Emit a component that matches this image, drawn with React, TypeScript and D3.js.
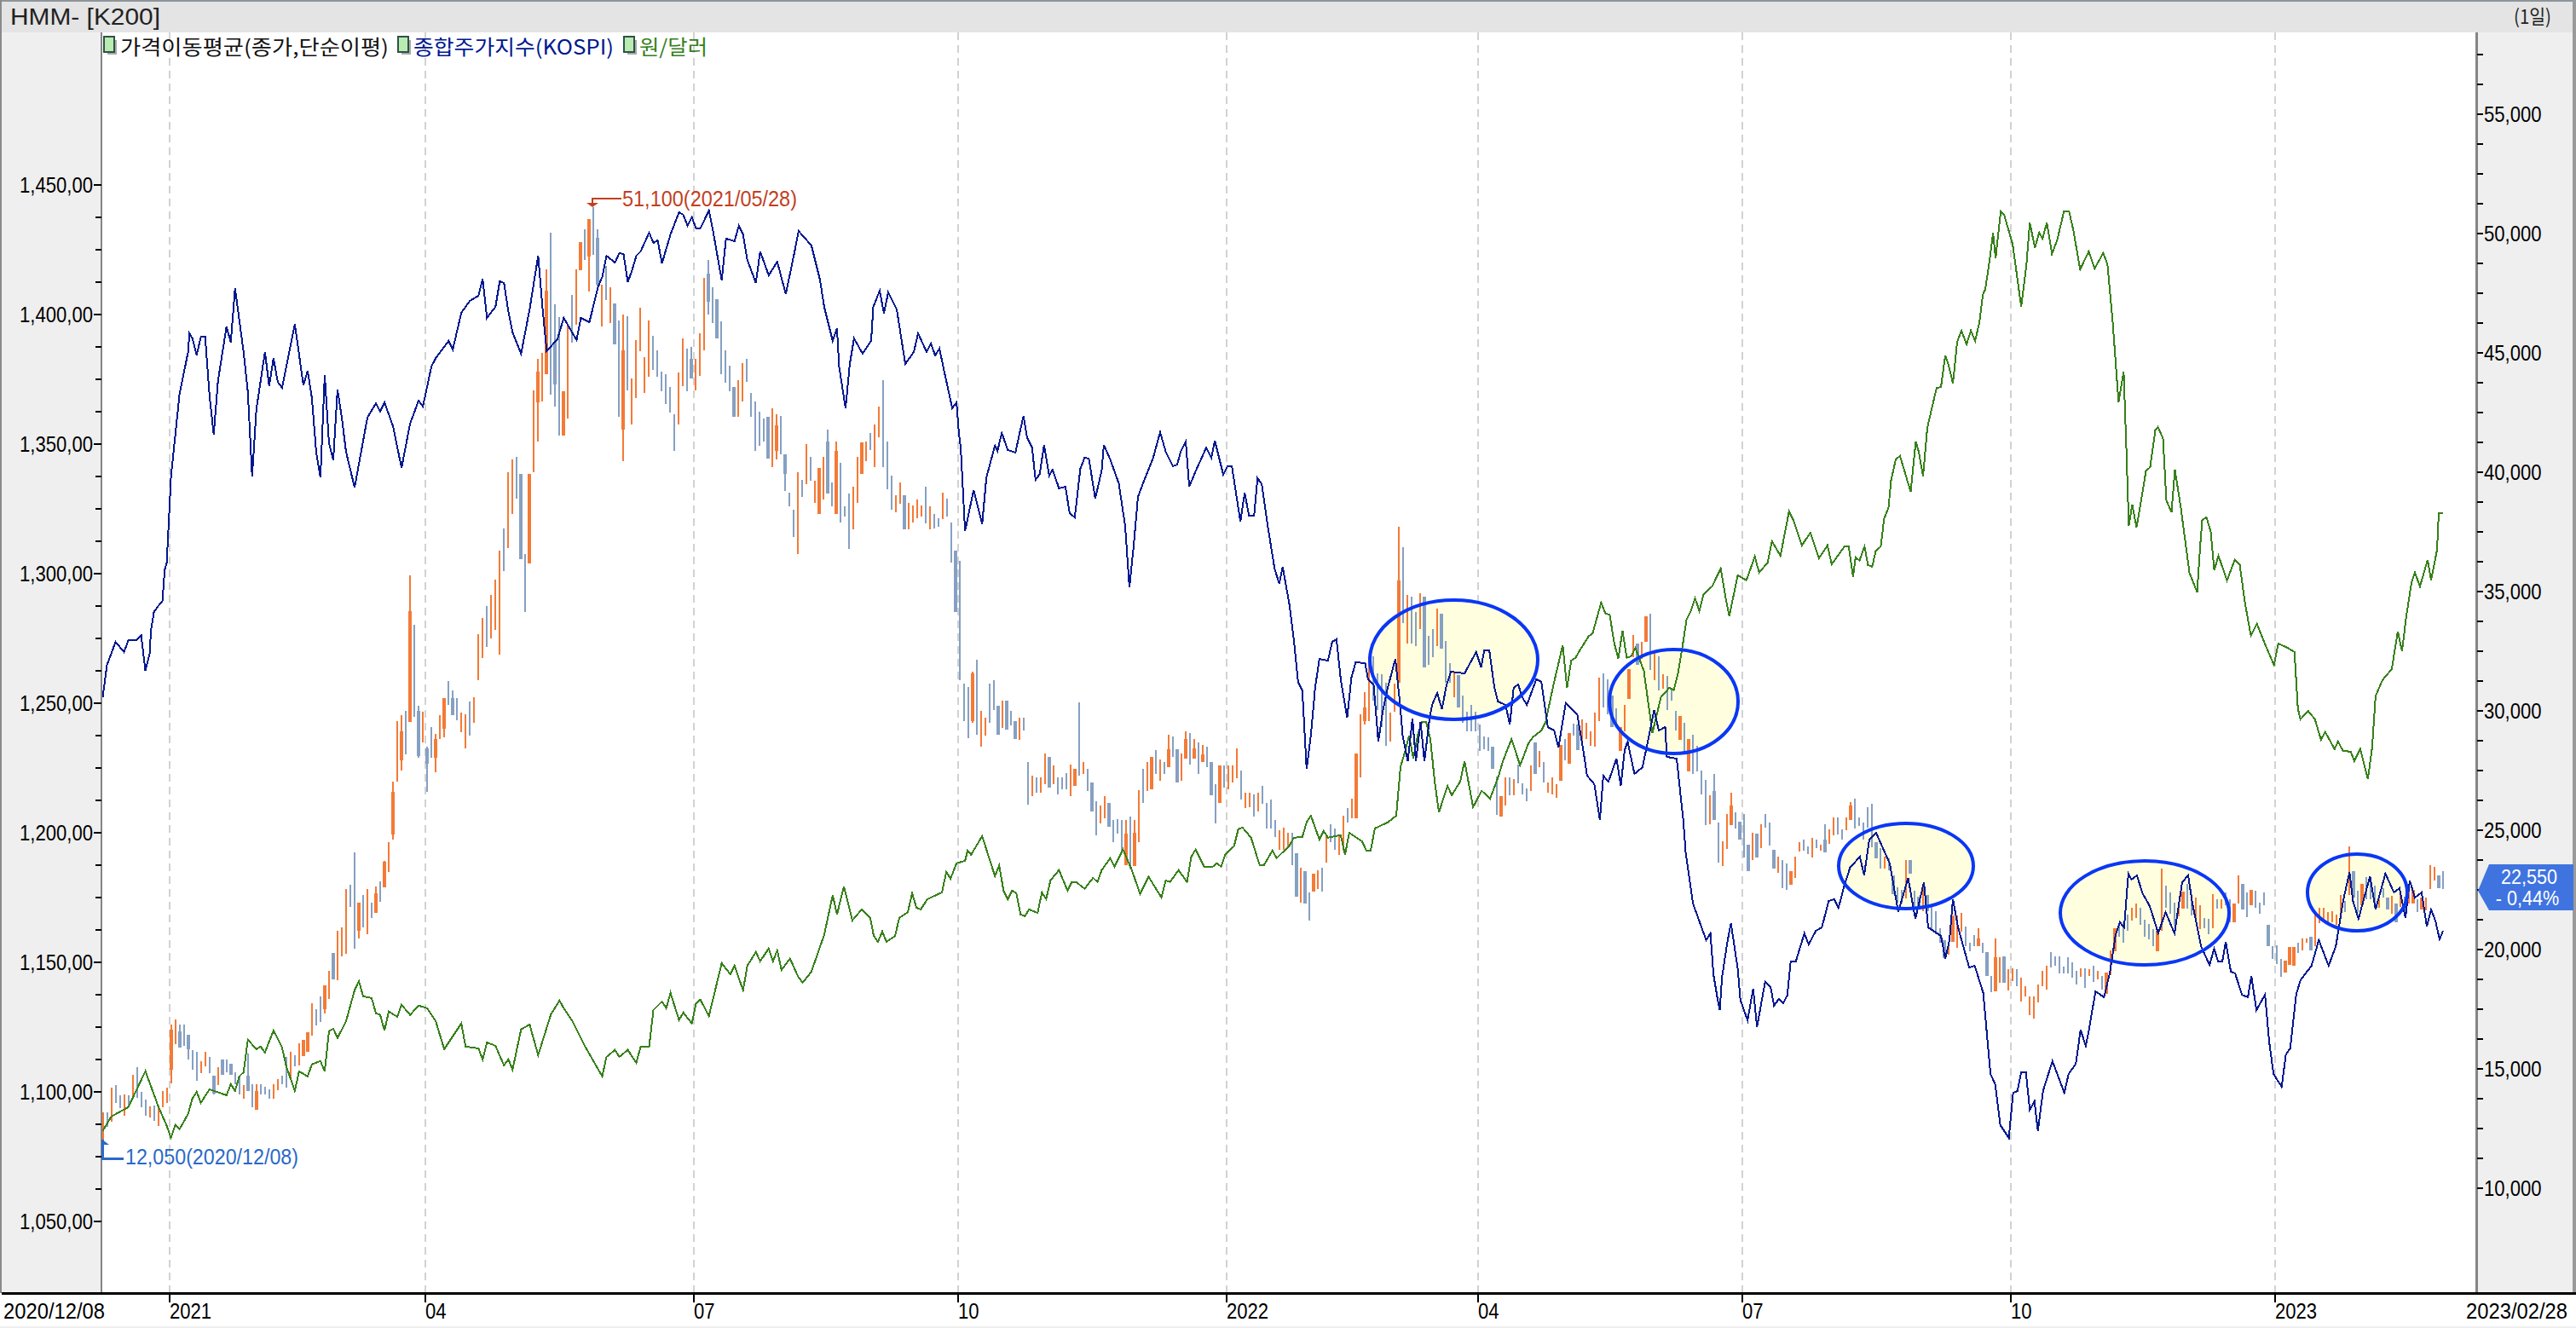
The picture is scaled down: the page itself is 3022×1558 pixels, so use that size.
import React from "react";
import * as d3 from "d3";

// ---------- axis labels ----------
const usdTicks = [1050, 1100, 1150, 1200, 1250, 1300, 1350, 1400, 1450];
const usdTickLabels = ["1,050,00", "1,100,00", "1,150,00", "1,200,00", "1,250,00", "1,300,00", "1,350,00", "1,400,00", "1,450,00"];
const priceTicks = [10000, 15000, 20000, 25000, 30000, 35000, 40000, 45000, 50000, 55000];
const gridDays = [16, 76, 139, 201, 264, 323, 385, 448, 510];
const gridLabels = ["2021", "04", "07", "10", "2022", "04", "07", "10", "2023"];

// ---------- daily price bars (HMM, won) ----------
const candleHigh = [
  13200,13200,14240,14320,13890,13950,13890,14750,15070,14050,13730,13450,13480,13450,14080,14240,16870,17080,16870,16870,
  16440,15800,15720,15330,15720,15520,14720,15070,15390,15390,15230,14880,14640,14320,15640,14370,14370,14370,14270,14160,
  14370,14590,14720,15520,15710,15600,16080,16240,16560,17750,17510,18040,18520,19100,19870,20810,20940,22530,22720,24090,
  21960,22290,22530,21970,22660,22880,23730,24520,27030,29590,29820,30020,35680,33610,30230,29960,28510,29310,29030,29820,
  30530,31240,30870,30530,29940,29850,30390,30570,33200,33900,34400,34860,35500,
  36710,37660,40010,40520,40640,39930,36590,39930,
  43440,44750,44990,48510,50020,47020,46480,43380,46180,47440,48510,49640,50180,50590,51100,50180,47850,48630,47730,47080,
  46360,46600,46540,43920,45530,46900,44810,46360,45710,45110,44220,44100,43560,42430,44160,45590,45170,45230,44750,45830,
  48150,48870,47730,47260,46300,45110,44460,43560,43860,44570,44750,43320,42970,42550,42250,42310,42670,42430,42370,40760,
  39150,38440,39990,39690,41180,40640,39630,40160,40640,41770,39570,41300,40400,38560,39090,39390,40640,41240,41300,41650,
  42010,42730,43860,41300,39870,39030,39570,39030,38730,38610,38850,38610,39390,38560,38260,38080,39150,38910,37900,36710,
  36300,31150,30990,31650,32150,30000,29710,31150,31290,30210,
  30430,30430,30000,29560,29710,29710,27850,27290,27210,27210,28210,28070,27710,27230,27210,27410,27770,27570,30360,27850,
  27570,27000,26220,26040,26420,26140,25420,25470,25450,25420,25570,25420,26700,27560,27850,28070,28370,27970,27850,29000,
  28930,28400,28210,29140,29080,28840,28700,28570,28490,27850,26940,27710,27710,27710,27710,28430,27500,26560,26560,26520,
  26580,26850,26140,26280,25420,25000,25110,24910,24910,24050,23420,23280,22410,23180,23330,23420,24790,25270,25090,24790,25620,25920,
  26340,28210,29860,30790,32300,32300,31590,31550,31170,29920,31150,37720,36870,34860,34800,34150,34920,34800,33130,33430,
  34270,34090,32930,32000,31650,31500,30630,29980,30270,29980,29440,28930,28900,28490,27260,26420,27210,27210,27140,27770,
  26970,26760,27710,28690,28330,27850,27000,27210,26940,28570,28840,29080,29480,29440,29640,29500,29140,29920,31410,31590,
  31320,30630,30100,29320,30270,31760,33190,32840,32900,33970,34090,32540,32300,31530,31470,30930,30000,29800,29500,28840,
  28990,28550,27500,
  27130,26480,27350,25340,24550,25700,26560,25770,25380,25700,24400,24900,24880,25260,25700,25340,24190,23910,23750,23630,
  23290,23910,24510,24630,24340,24700,24610,24400,25260,25060,25560,25560,25060,25560,26180,26330,25560,25340,25980,26130,
  24490,24250,23910,23830,23120,22610,22520,23770,23770,22460,22220,22600,22280,21800,21630,20910,20410,20190,21450,21450,
  21540,20970,20310,20610,20910,20310,19900,18920,20460,19690,19720,19180,19240,19180,18820,18470,18050,18050,18550,19120,
  19340,19900,19720,19720,19300,19690,19460,19120,19240,19240,19180,
  19340,19120,18890,19060,19980,20890,21090,21150,21480,21750,21920,21750,21270,21090,20850,20790,23410,22700,22400,21980,
  21980,22440,22760,22340,22190,21860,21330,21290,22340,22100,22130,22400,22100,21920,23120,22760,22400,22520,22480,21980,
  22400,21030,20140,20200,19620,19540,20110,20110,20310,20460,20490,20550,21570,21750,21750,21570,21630,21470,22280,22040,
  24340,
  23300,22470,22760,23060,22820,22700,22110,22580,22170,22250,21930,22470,22230,22700,22520,22110,22200,22200,23560,23480,23120,23280,
];
const candleLow = [
  12050,12570,12810,13600,13370,13050,13450,13760,13800,13420,13050,12970,12840,12620,13420,13600,14400,16030,15920,15970,
  15410,14960,14530,14830,15120,14830,13930,14320,14750,14880,14750,14370,13930,13760,14080,13410,13290,13950,13950,13760,
  13760,14110,14370,14240,14560,15120,15150,15550,15710,16400,16830,16990,17320,17950,18750,18740,19740,19820,21810,20030,
  20460,20940,20670,21340,21540,22020,22600,23250,24600,27030,27520,28190,29540,29740,28030,28670,26600,28030,27450,28830,
  28910,30260,29820,29620,29110,28420,28960,29490,31280,32200,32680,33050,33400,
  32350,35870,36830,38260,38910,36350,34140,36170,
  40010,41300,42970,44100,43260,42730,41540,41540,42250,45410,46180,48450,48870,47550,49100,47790,46120,47200,46240,45350,
  42310,40460,43440,42010,43090,45050,43320,43980,44280,43980,43380,42850,42490,40880,42010,43620,43380,43920,43440,44040,
  45110,46600,46240,45590,44100,43740,43380,42310,42310,42970,43800,42310,40880,41120,41300,40580,40220,40520,40760,39210,
  38560,37300,36590,38970,39510,39630,38730,38260,38850,39090,38560,38260,37900,38140,36770,37600,38730,39930,40460,40940,
  40220,41480,40220,39270,38440,38320,38670,37600,37600,37900,38080,38140,37840,37600,37660,37720,38020,38140,36230,34140,
  31280,29560,28870,29500,29020,28510,28960,29500,30040,29020,
  29290,29230,29380,28840,28780,29170,26080,26420,26580,26580,26940,26790,26940,26520,26720,26720,26440,26880,27290,27350,
  26640,25800,24790,25290,25510,25150,24490,24850,24140,23540,23360,23520,24490,26160,26640,26720,27350,27080,27350,27650,
  28070,27000,27080,28010,27740,28010,27350,27870,27650,26460,25290,26160,26780,26720,27000,27170,26280,25920,25980,25570,
  25800,26100,25090,25090,24730,24200,24170,24310,23560,22230,21990,21930,21220,22430,22530,22430,23660,24490,24170,23960,24140,25330,
  25510,25510,27230,29440,29560,30450,30040,29320,28550,28730,29980,31170,33670,32840,32810,32720,33430,31820,31940,32270,
  32720,32600,31170,31170,30570,30150,29500,29140,29140,29140,28310,28400,28310,27590,25660,25570,26040,26460,26460,26970,
  26520,26220,26640,27350,27650,27000,26580,26520,26370,27090,27950,27800,28960,28370,28670,28840,28550,28490,29560,30150,
  29860,29320,29380,28310,29140,30510,32240,31940,32180,32900,31710,31290,30870,30930,30040,30450,29200,28780,28250,27470,
  27350,27470,26520,
  25230,25260,25440,23650,23510,24220,25230,25080,24630,23870,23290,23770,23870,24270,25110,24370,23410,23210,22580,22500,
  22720,23000,24100,24150,24010,23850,24250,24150,24070,24430,24780,24840,24600,25020,25440,25080,25180,24630,25110,24310,
  23830,23410,23410,23320,22340,21980,21920,22140,23170,21800,21740,21630,21630,20790,20670,20290,19660,19780,20340,20080,
  20770,20140,19930,20160,20140,19860,18920,18230,18260,18620,18620,18290,18700,18470,17850,18050,17270,17130,17790,18490,
  18350,19270,19340,19000,19000,19000,18820,18550,18880,18410,18920,
  18650,18770,18350,18150,18940,19930,20550,20290,20790,21210,21330,21030,20550,20440,20140,19930,20790,21750,21510,21030,
  21390,21720,21720,21450,21210,20850,20910,20650,20910,21720,21720,21860,21150,21150,21920,21690,21360,21860,21750,21510,
  21860,20140,19620,19420,18860,19060,19360,19340,19860,19980,20280,19980,20140,21130,21270,21150,21150,21050,21450,21570,
  22280,
  22170,21570,21870,22110,22110,21810,21750,22170,21690,21510,21150,21810,21510,21930,21930,21570,21690,21650,22530,22910,22580,22560,
];
// U = closed up (orange), D = closed down (grey blue)
const candleDirection = (
  "UDUDDUDUDD" + "DUDUUUUUDD" + "DDDUUDDUDD" + "DDDUDDUDDD" + "UUDDUDUUUU" + "DDUUDUUUDD" + "UDUDUDUUUU" + "UDUDDUDDUU" + "UDDDUUDUUUDUU" +
  "UDUUDDDU" + "UUUUDDDUUD" + "UUDUDDUDUD" + "DUDUUUUUDD" + "DDDDUUDDUU" + "UDDDDDDDUU" + "DDDDDDUUDD" + "DDUDUDUUUD" + "DUDDDUUUUD" + "UUDDDUUDUU" + "UUDUDDUDDD" +
  "D" + "DDUDUUDDD" + "UDDDUDDUDU" + "UDUDDDUUDU" + "DDDUUDDDDU" + "DUUDUUDUDU" + "DDUUDUDUDD" + "DUDUUUDUUD" + "UDDDDUUUDD" + "UDDUUDUDDUUD" +
  "UUUUUDDDDU" + "UUDUDDUDDD" + "UDDDUDDDDD" + "DDDDDUUDUD" + "DDUDUDUUUU" + "DUDDUUUUUD" + "DDDUUUUDUU" + "DUDUDDDUDU" + "DDD" +
  "DUDDUUUDDD" + "DUDUDDDUDD" + "UUUDDUDUDU" + "UDDUUDDDDD" + "DDUDDDDUDD" + "DUDDDDDUUU" + "UDDDUDDDUU" + "DUUDUUUUUU" + "UDDDDDDDUDU" +
  "DUDUUUDDDU" + "UDDDDUUDDD" + "UUDDUUDDUD" + "UDDUUDDUDD" + "DDDDDUUUDU" + "UDUUUUUUUD" + "U" + "DDUDDDUDDUDUDUUDUUUUDD"
).split("");
// days whose open-close body is wider than the wick: day, body top, body bottom
const bodyDay = [16,18,20,26,28,30,34,36,47,48,52,54,60,64,66,68,70,72,74,76,78,80,82,
  98,100,102,104,106,108,112,114,116,120,122,138,142,144,148,156,158,160,168,170,172,178,188,200,
  204,210,212,214,222,228,232,236,240,242,246,250,252,254,256,258,260,262,280,282,284,
  294,296,304,310,314,318,326,328,336,342,344,346,354,356,358,360,362,370,372,
  378,382,384,386,388,392,396,404,410,416,420,424,426,428,432,434,440,442,444,446,
  470,472,482,488,500,502,504,508,512,513,514,518,528,530,536,538,542,544,548];
const bodyTop = [16660,16600,16440,14720,15390,15230,14720,14080,16240,16560,18520,19870,21960,22370,23680,26600,29150,34170,30020,28430,28830,30530,30530,
  39930,39930,44220,47610,45470,43380,49640,50590,49810,47080,45110,44750,48330,47260,43560,42310,41950,40760,40160,41300,40880,41240,39030,36710,
  31590,30210,30430,29560,28070,27570,27000,26140,24850,24910,28070,28400,28400,28840,28440,28190,27850,27710,24050,23280,23180,
  28210,30150,35460,34800,34090,31500,28490,26420,28690,28570,29080,29440,30630,29320,31760,32840,33970,29800,28840,
  26650,26060,25380,24400,24880,24190,23290,24630,26060,24490,23120,23770,22220,22280,20410,21450,20490,19900,19690,19720,
  19060,20890,20790,22440,21920,22760,22520,21030,19540,20110,20110,20550,23300,22760,22170,21930,22520,22200,23120];
const bodyBottom = [14960,15920,15840,13990,14750,14750,14080,13290,15550,15710,17510,18750,20780,21540,22610,24840,27950,29540,28110,27790,28030,29260,29820,
  36350,36170,42910,44100,43680,41540,48450,49040,47850,45350,41770,43920,47140,45590,42310,40580,40880,39930,38260,39090,38260,39930,37600,34140,
  29560,29020,29230,28840,26790,26880,25800,25150,23540,23520,26720,27650,27000,28010,28010,27870,26460,26160,22230,21930,22430,
  25510,29560,31170,31820,32600,30150,27590,25570,27350,27090,27800,28370,29320,28310,30510,31940,32900,28780,27470,
  25440,25230,24630,23290,23870,23410,22720,24070,25440,23830,22340,23170,21740,21630,19660,20340,20140,18920,18260,18620,
  18150,19930,19930,21720,21150,21690,21860,20140,19060,19360,19340,19980,22170,21870,21690,21150,21930,21690,22580];

// ---------- KOSPI (hidden axis), [trading day, index] ----------
const kospiPoints: [number, number][] = [
  [0,2732],[1,2770],[2,2783],[3,2797],[5,2785],[6,2799],[8,2799],[9,2805],[10,2763],[11,2783],[11.3,2810],[12,2832],[13,2839],[14,2845],[14.5,2881],[15,2890],[16,2991],[18,3088],[20,3137],[20.3,3159],[21,3153],[22,3133],[23,3155],[24,3155],[25,3087],[26,3040],[27,3103],[29,3167],[30,3148],[31,3212],[33,3137],[34,3090],[35,2991],[36,3070],[38,3137],[39,3097],[40,3130],[41,3102],[42,3095],[45,3170],[47,3098],[48,3115],[49,3083],[50,3020],[51,2990],[52,3110],[53,3030],[54,3010],[55,3093],[56,3060],[57,3020],[59,2978],[62,3060],[64,3077],[65,3067],[66,3078],[68,3050],[70,3001],[72,3053],[74,3080],[75,3073],[77,3120],[78,3130],[81,3150],[82,3140],[84,3183],[86,3197],[88,3203],[89,3223],[90,3177],[92,3190],[93,3220],[94,3218],[95,3185],[96,3160],[98,3135],[100,3187],[102,3250],[103,3190],[104,3138],[106.5,3152],[108,3177],[111,3151],[112,3177],[114,3172],[116,3213],[117,3225],[118,3250],[120,3242],[121,3253],[122,3252],[123,3219],[124,3233],[125,3250],[126,3255],[128,3277],[129,3265],[130,3268],[131,3241],[133,3275],[135,3301],[136,3298],[137,3285],[138,3295],[139,3282],[140,3282],[142,3303],[143,3278],[145,3221],[146,3270],[148,3267],[149,3285],[150,3275],[151,3245],[153,3218],[154,3255],[156,3227],[158,3243],[160,3205],[162,3253],[163,3279],[166,3262],[168,3222],[169,3190],[171,3150],[172,3165],[172.5,3120],[174,3071],[175,3123],[176,3153],[178,3135],[180,3150],[180.5,3190],[182,3209],[183,3182],[184,3207],[186,3187],[188,3123],[190,3137],[191,3159],[193,3137],[194,3147],[195,3133],[196,3141],[197,3117],[199,3071],[200,3078],[200.5,3045],[201,3023],[202,2927],[204,2975],[206,2935],[207,2990],[209,3027],
  [209.6,3021],[210.6,3042],[212,3022],[213.8,3019],[215,3047],[215.7,3062],[216.5,3037],[217.7,3025],[218.5,2987],[219.5,2994],[220.5,3028],[221.7,2992],[222.5,2999],[224,2977],[225.5,2979],[226.5,2948],[227.7,2943],[229,3000],[230,3013],[231,3012],[232.5,2965],[234,2998],[234.5,3028],[236,3011],[238,2983],[239.5,2933],[240.5,2861],[241.5,2910],[242.5,2967],[244,2987],[246,3012],[247.7,3043],[249,3020],[250.7,3003],[251.7,3005],[252.5,3020],[253.7,3032],[254.5,2979],[256,2997],[258.5,3025],[259.7,3013],[260.5,3033],[262.5,2993],[263.5,3003],[264.5,3003],[266.5,2938],[267.5,2972],[268.5,2945],[269.7,2945],[270.5,2989],[271.5,2982],[272.9,2933],[274.5,2883],[275.6,2865],[276.4,2885],[278,2840],
  [279,2800],[280,2750],[281,2740],[282,2648],[283,2687],[284,2743],[285,2777],[287,2775],[288,2797],[289,2800],[290,2753],[291.5,2708],[292.5,2755],[293.5,2773],[295.7,2772],[296.4,2753],[297.7,2747],[298.8,2680],[299.9,2717],[301,2743],[302.8,2777],[303.9,2723],[304.5,2687],[305.7,2657],[306.8,2707],[307.6,2657],[308.7,2703],[309.6,2657],[310.8,2707],[311.4,2723],[312.6,2737],[313.7,2718],[314.8,2747],[315.8,2762],[319,2760],[321.7,2785],[322.9,2767],[323.6,2787],[324.8,2787],[326,2743],[326.8,2727],[328.6,2723],[329.6,2700],[330.5,2743],[331.6,2747],[332.4,2733],[333.6,2723],[335.8,2753],[337,2750],[338.5,2697],[340,2693],[341,2673],[342.7,2725],[345.4,2712],[346.9,2667],[347.7,2640],[349.4,2630],[350.7,2588],[351.5,2640],[352.7,2633],[354.6,2660],[355.6,2628],[356.5,2670],[357.2,2680],[358.8,2642],[360.7,2650],[362.2,2687],[363.4,2717],[364.5,2693],[366,2697],[366.4,2662],[368.7,2660],[369.6,2617],[370.2,2590],[370.8,2550],[372.5,2490],[375.6,2447],[376.6,2455],[377.3,2407],[378.3,2377],[378.8,2365],[379.3,2403],[380.5,2443],[381.4,2467],[383,2413],[383.6,2377],[385.3,2353],[386.6,2390],[387.5,2345],[389.4,2398],[390.7,2392],[391.5,2370],[392.6,2378],[393.6,2373],[394.6,2382],[395.4,2422],[396.6,2422],[398.6,2455],[399.6,2442],[401.3,2458],[402.7,2462],[404.3,2493],[405.6,2495],[406.6,2485],[407.9,2510],[409.3,2532],[411.6,2545],[412.6,2523],[413.8,2565],[415.4,2573],[418.6,2537],[420.6,2480],[422.9,2520],[424.6,2472],[426.6,2515],[427.6,2462],[430.6,2452],[431.6,2425],[432.6,2447],[433.4,2495],[434.6,2462],[437.2,2415],[438.5,2417],[440.5,2385],[442.2,2290],[443.3,2278],[444.5,2230],[446.5,2215],[447.5,2268],[448.5,2270],[449.4,2292],[450.5,2292],[451.4,2248],[452.5,2258],[453.3,2223],[454.5,2270],[456.7,2305],[459.5,2268],[460.5,2290],[462.2,2302],[463.3,2342],[464.5,2323],[465.2,2340],
  [466.8,2387],[468.8,2380],[470.2,2410],[471.5,2453],[472.5,2468],[473.5,2462],[474.5,2525],[475.2,2518],[476.5,2523],[477.8,2502],[479.5,2487],[481.5,2455],[483.2,2480],[485.3,2455],[487.1,2515],[488.5,2523],[489.5,2490],[491.5,2440],[493.5,2418],[494.6,2437],[495.5,2422],[496.5,2422],[497.3,2445],[498.5,2410],[499.5,2408],[501.1,2383],[502.5,2380],[503.3,2405],[504.5,2365],[506.5,2383],[507.5,2327],[508.5,2290],[510.4,2275],[511.4,2313],[512.4,2320],[513.8,2383],[514.8,2400],[517.4,2417],[519.1,2447],[521.4,2417],[523.1,2440],[524.8,2493],[526.3,2527],[527.1,2493],[528.4,2472],[531.1,2522],[532.4,2483],[534.7,2525],[536.7,2503],[538,2508],[539.4,2473],[540.4,2517],[541.6,2497],[543.2,2503],[544.4,2463],[545.4,2483],[546.4,2470],[547.4,2448],[548.2,2458],
];

// ---------- won per dollar (left axis), [trading day, rate] ----------
const usdPoints: [number, number][] = [
  [0,1084.9],[2,1090.5],[6,1094.1],[10,1108],[13,1094.5],[15,1086.9],[16,1082.3],[17,1087.2],[18,1085.6],[20,1091.5],[21,1097.4],[22,1100],[23,1095.8],[25,1101],[29,1098.7],[30,1103],[31,1100.4],[32,1106],[33,1107.6],[34,1120.1],[36,1116.5],[37,1117.5],[38,1115.2],[40,1123.7],[42,1117.2],[43,1109.9],[45,1100.4],[46,1107.9],[48,1106],[49,1110.6],[51,1111.9],[52,1107.9],[53,1123.4],[54,1124.4],[55,1120.8],[57,1127.3],[59,1139.2],[60,1142.8],[61,1136.9],[63,1136.2],[64,1130.3],[65,1129.7],[66,1123.7],[67,1131],[69,1129],[70,1133.6],[72,1129.7],[74,1133.3],[76,1132.3],[78,1127.3],[80,1116.5],[84,1126.4],[85,1117.5],[88,1116.8],[89,1112.6],[90,1119.1],[92,1117.8],[94,1110.2],[95,1112.6],[96,1108.6],[98,1124.1],[100,1126],[102,1114.2],[105,1130],[107,1135.2],[108,1132.3],[110,1127.3],[113,1117.5],[117,1106],[118,1113.5],[120,1116.2],[121,1113.5],[123,1116.2],[125,1111.2],[126,1117.5],[128,1117.5],[129,1131.6],[131,1134.9],[132,1132.3],[133,1138.2],[135,1127.7],[136,1130.6],[138,1126.4],[139,1134.2],[140,1135.6],[142,1129.3],[145,1149.7],[147,1145.4],[148,1148.7],[150,1139.2],[151,1148.7],[153,1154],[154,1150.4],[156,1155.3],[157,1150.4],[158,1154.6],[159,1147.1],[161,1151.4],[163,1144.1],[164,1142.2],[166,1146.4],[169,1160.6],[171,1176],[172,1168.4],[173.6,1179.3],
  [174.6,1172.7],[175.6,1166.2],[177.8,1170.4],[179.8,1167.1],[180.6,1160.2],[181.6,1157.9],[182.6,1161.9],[183.6,1157.9],[185.6,1160.2],[186.6,1167.1],[188.6,1169.4],[189.6,1176.7],[190.6,1171.1],[191.6,1170.4],[193.2,1174.4],[196.6,1177],[197.6,1184.9],[198.6,1182.3],[200,1188.2],[202,1189.2],[202.6,1193.1],[203.4,1191.5],
  [206,1198.7],[209,1183.3],[210,1187.5],[211,1177.7],[212,1174.4],[213,1177.7],[214,1176.7],[215,1168.5],[216,1167.8],[217,1170.4],[219,1169.1],[220,1177],[221,1174.4],[222,1181.6],[224,1185.6],[226,1177.7],[227,1181],[228,1181],[230,1178.4],[232,1182.6],[233,1181],[234,1185.6],[236,1190.2],[237,1186.9],[239,1193.5],[241,1185.9],[243,1176.4],[245,1183],[248,1175],[249,1181.6],[250,1181],[252,1185.6],[254,1181],[255,1190.8],[256,1193.5],[258,1186.9],[260,1186.9],[261,1188.2],[262,1186.9],[263,1191.8],[265,1194.8],[266,1201.4],[267,1202],[269,1198.1],[271,1187.5],[272,1187.5],[274,1193.1],[275,1190.2],[278,1195.1],[279,1198.1],[281,1198.4],[282,1204],[283,1206.6],[285,1197.4],[286,1200.7],[287,1198.1],[290,1199.1],[291,1191.5],[292,1200],[295,1196.7],[296,1193.1],[297,1193.1],[298,1201.7],[301,1204],[303,1206.6],[304,1225.4],[305,1231],[306,1237.5],[307,1228.7],[308,1237.5],[309,1242.8],[310,1242.8],[311,1236.2],[312,1219.8],[313,1207.9],[315,1218.1],[316,1214.5],[318,1219.8],[319,1227.7],[321,1209.9],[323,1216.2],[325,1213.2],[327,1222.1],[328,1227.7],[330,1236.2],[332,1226],[334,1234.6],[335,1236.9],[337,1239.5],[338,1242.8],[339,1250.7],[340,1258.3],[342,1272.4],[343,1256],[344,1266.5],[345,1267.5],[346,1270.4],[348,1275.7],[349,1277],[351,1288.8],[352,1284.6],[353,1284.2],[354,1273.7],[355,1267.1],[356,1278],[357,1267.5],[358,1268.1],[359,1271.4],[361,1262.5],[363,1238.5],[365,1252.3],[367,1256],[368,1255],[369,1261.5],[370,1271.4],[371,1282.3],[372,1285.6],[373,1290.5],[374,1285.6],[375,1292.1],[377,1295.1],[379,1302],[380,1292.1],[381,1283.6],[383,1299.4],[385,1297.4],[387,1306.6],[388,1300.4],[390,1304.3],[391,1312.5],[393,1306.9],[395,1324],[396,1320.7],[398,1310.9],[400,1315.8],[402,1305.9],[404,1310.9],
  [405,1303.6],[408,1310.5],[409,1310.5],[410,1298.7],[410.6,1306.3],[411.5,1305],[412.7,1310.5],[413.5,1303.3],[414.5,1302.7],[415.3,1308.6],[416.5,1310.5],[417.3,1321.4],[418.3,1325.3],[418.9,1335.9],[420,1344.1],[421,1345.4],[423.5,1331.6],[424.7,1351],[425.4,1347],[426.4,1337.5],[427.4,1356.3],[429.2,1369.1],[429.6,1371.7],[430.6,1372],[431.6,1384.2],[432.4,1380.3],[433.4,1373.4],[434.4,1389.5],[435.4,1393.8],[436.6,1388.5],[437.6,1393.8],[438.6,1389.8],[439.6,1397],[440.4,1407.6],[441,1409.9],[442,1421],[442.8,1431.6],[443.4,1421.7],[444.6,1439.8],[445.4,1438.5],[447.4,1427],[449.4,1403],[450.6,1418.8],[451.4,1435.5],[452.6,1425.7],[453.6,1431.6],[454.4,1429.3],[455.4,1435.5],[456.6,1423.4],[457.8,1428.6],[459.4,1439.8],[460.6,1439.8],[461.6,1432.6],[463.2,1417.4],[465.2,1424.3],[466.6,1417.8],[468.6,1423.7],[469.6,1419.4],[470.8,1397.7],[472.2,1366.1],[473.4,1378],[474,1349.4],[474.6,1318.4],[475.4,1326.7],[476.4,1317.8],[477.4,1327.3],[478.6,1339.5],[479.6,1341.1],[480.8,1355.3],[481.4,1356.6],[482.6,1352.3],[483.4,1328.3],[484.6,1323.7],[485.4,1340.1],[486.8,1325.3],[488,1310.2],[488.8,1300.4],[490.6,1292.8],[491.4,1312.5],[491.8,1320.7],[492.8,1321.7],[493.8,1316.1],[494.6,1301.3],[495.6,1306.9],[497.6,1297.4],[499.4,1305.3],[500.6,1303.3],[501.8,1288.8],[503.2,1276],[504.6,1280.6],[506.6,1272.4],[508.6,1264.8],[509.6,1273],[511.4,1271.7],[513.4,1269.8],[514.2,1248],[514.8,1243.8],[516.6,1247],[518.2,1243.8],[519.6,1235.9],[520.6,1238.9],[522.8,1232.3],[523.6,1235.2],[524.8,1231.6],[526.6,1231.3],[527.4,1227.7],[528.8,1232.3],[530.6,1220.8],[531.6,1232.9],[532.4,1252.7],[534,1258.9],[536.2,1263.2],[537.6,1277.7],[538.6,1270.1],[539.6,1283.6],[540.8,1296.4],[541.6,1300.4],[542.8,1295.1],[544.6,1305.3],[545.4,1297.4],[546.8,1309.2],[547.2,1323.4],[548.2,1323.4],
];

// ---------- scales ----------
const xCandle = d3.scaleLinear().domain([0, 549]).range([120.5, 2865.5]);
const xLine = d3.scaleLinear().domain([0, 548]).range([120.5, 2865]);
const yUsd = d3.scaleLinear().domain([1050, 1450]).range([1433, 217]);
const yPrice = d3.scaleLinear().domain([12050, 51100]).range([1337, 243]);
const yKospi = d3.scaleLinear().domain([2215, 3303]).range([1335, 247]);

const usdLine = d3.line<[number, number]>().x((d) => xLine(d[0])).y((d) => yUsd(d[1]));
const kospiLine = d3.line<[number, number]>().x((d) => xLine(d[0])).y((d) => yKospi(d[1]));

// quarter subdivisions of the axes
const usdMinor = d3.range(1050, 1450.01, 12.5);
const priceMinor = d3.range(10000, 57500.01, 1250);

const ellipses = [
  { cx: 1705.5, cy: 774, rx: 98.5, ry: 70 },
  { cx: 1963.5, cy: 823, rx: 75.5, ry: 61 },
  { cx: 2236, cy: 1016, rx: 79, ry: 50 },
  { cx: 2516, cy: 1071, rx: 99, ry: 61 },
  { cx: 2765.5, cy: 1047, rx: 58.5, ry: 45 },
];

const LATIN = "'Liberation Sans', Arial, sans-serif";
const KR = "'Noto Sans CJK KR', 'Liberation Sans', sans-serif";
const UP = "#f47a36";
const DOWN = "#86a0c2";
const NAVY = "#00188f";
const GREEN = "#36801a";
const RED = "#c23f1e";
const BLUE = "#2a69c8";

function Squeezed(p: { x: number; y: number; anchor?: string; fill?: string; size?: number; sx?: number; children: React.ReactNode; length?: number; family?: string }) {
  const { x, y, anchor = "start", fill = "#000", size = 26, sx = 0.85, children, length, family = LATIN } = p;
  if (length) {
    return (
      <text x={x} y={y} fontFamily={family} fontSize={size} fill={fill} textAnchor={anchor} textLength={length} lengthAdjust="spacingAndGlyphs">
        {children}
      </text>
    );
  }
  return (
    <text transform={`translate(${x},${y}) scale(${sx},1)`} fontFamily={family} fontSize={size} fill={fill} textAnchor={anchor}>
      {children}
    </text>
  );
}

function LegendMark({ x }: { x: number }) {
  return (
    <g shapeRendering="crispEdges">
      <rect x={x + 4} y={47} width={11} height={17} fill="#a8a8a8" />
      <rect x={x} y={43} width={12} height={18} fill="#b8ecb0" stroke="#30504a" strokeWidth={2.5} />
    </g>
  );
}

export default function App() {
  return (
    <svg
      width={3022}
      height={1558}
      viewBox="0 0 3022 1558"
      style={{ position: "absolute", left: 0, top: 0, display: "block", background: "#fff" }}
    >
      {/* frame */}
      <g shapeRendering="crispEdges">
        <rect x={0} y={38} width={119} height={1479} fill="#efefef" />
        <rect x={2905} y={38} width={113} height={1479} fill="#efefef" />
        <rect x={0} y={0} width={3022} height={38} fill="#e4e4e4" />
        <rect x={0} y={0} width={3022} height={2} fill="#8e949c" />
        <rect x={0} y={0} width={2} height={1517} fill="#8a8a8a" />
        <rect x={3018} y={0} width={4} height={1517} fill="#9a9a9a" />
        <rect x={0} y={1556} width={3022} height={2} fill="#efefef" />
      </g>

      {/* grid */}
      {gridDays.map((d) => (
        <line key={d} x1={xCandle(d) - 1.5} x2={xCandle(d) - 1.5} y1={38} y2={1517} stroke="#d2d2d2" strokeWidth={2} strokeDasharray="9 6" shapeRendering="crispEdges" />
      ))}

      {/* highlighted areas */}
      {ellipses.map((e, i) => (
        <ellipse key={i} {...e} fill="#ffffe0" />
      ))}

      {/* price bars */}
      <g shapeRendering="crispEdges">
        {candleHigh.map((h, i) => (
          <line
            key={i}
            x1={xCandle(i)}
            x2={xCandle(i)}
            y1={yPrice(h)}
            y2={yPrice(candleLow[i])}
            stroke={candleDirection[i] === "U" ? UP : DOWN}
            strokeWidth={2}
          />
        ))}
        {bodyDay.map((day, i) => (
          <rect
            key={day}
            x={xCandle(day) - 2}
            width={4}
            y={yPrice(bodyTop[i])}
            height={yPrice(bodyBottom[i]) - yPrice(bodyTop[i])}
            fill={candleDirection[day] === "U" ? UP : DOWN}
          />
        ))}
      </g>

      {/* index and exchange rate lines */}
      <path d={usdLine(usdPoints) as string} fill="none" stroke={GREEN} strokeWidth={2} shapeRendering="crispEdges" />
      <path d={kospiLine(kospiPoints) as string} fill="none" stroke={NAVY} strokeWidth={2} shapeRendering="crispEdges" />

      {/* ellipse outlines */}
      {ellipses.map((e, i) => (
        <ellipse key={i} {...e} fill="none" stroke="#0a37f5" strokeWidth={4} />
      ))}

      {/* axes */}
      <g shapeRendering="crispEdges">
        <rect x={118} y={38} width={2} height={1479} fill="#858585" />
        <rect x={2904} y={38} width={3} height={1479} fill="#858585" />
        <rect x={2} y={1516} width={3020} height={3} fill="#000" />
        {usdMinor.map((v) => (
          <rect key={v} x={112} y={yUsd(v) - 1} width={7} height={2} fill="#000" />
        ))}
        {usdTicks.map((v) => (
          <rect key={v} x={110} y={yUsd(v) - 1} width={9} height={2} fill="#000" />
        ))}
        {priceMinor.map((v) => (
          <rect key={v} x={2906} y={yPrice(v) - 1} width={7} height={2} fill="#000" />
        ))}
        {gridDays.map((d) => (
          <rect key={d} x={xCandle(d) - 2.5} y={1518} width={2} height={10} fill="#000" />
        ))}
      </g>
      {usdTicks.map((v, i) => (
        <Squeezed key={v} x={109} y={yUsd(v) + 9} anchor="end">
          {usdTickLabels[i]}
        </Squeezed>
      ))}
      {priceTicks.map((v) => (
        <Squeezed key={v} x={2914} y={yPrice(v) + 9}>
          {d3.format(",")(v)}
        </Squeezed>
      ))}
      {gridDays.map((d, i) => (
        <Squeezed key={d} x={xCandle(d) - 1.5} y={1547}>
          {gridLabels[i]}
        </Squeezed>
      ))}
      <Squeezed x={4} y={1547} length={119}>2020/12/08</Squeezed>
      <Squeezed x={2893} y={1547} length={119}>2023/02/28</Squeezed>

      {/* header and legend */}
      <Squeezed x={12} y={29} fill="#222" size={27} length={176}>HMM- [K200]</Squeezed>
      <text x={2949} y={28} fontFamily={KR} fontSize={23} fill="#222" textLength={44} lengthAdjust="spacingAndGlyphs">(1일)</text>
      <LegendMark x={122} />
      <text x={141} y={64} fontFamily={KR} fontSize={24} fill="#111" textLength={315} lengthAdjust="spacingAndGlyphs">가격이동평균(종가,단순이평)</text>
      <LegendMark x={467} />
      <text x={485} y={64} fontFamily={KR} fontSize={24} fill={NAVY} textLength={235} lengthAdjust="spacingAndGlyphs">종합주가지수(KOSPI)</text>
      <LegendMark x={732} />
      <text x={750} y={64} fontFamily={KR} fontSize={24} fill={GREEN} textLength={80} lengthAdjust="spacingAndGlyphs">원/달러</text>

      {/* high marker */}
      <g shapeRendering="crispEdges" fill={RED}>
        <rect x={694} y={232} width={35} height={2} />
        <rect x={694} y={232} width={2} height={8} />
      </g>
      <path d={`M688,238 L702,238 L695,${yPrice(51100)} Z`} fill={RED} />
      <Squeezed x={730} y={242} fill={RED} length={205}>51,100(2021/05/28)</Squeezed>

      {/* low marker */}
      <g shapeRendering="crispEdges" fill={BLUE}>
        <rect x={119} y={yPrice(12050)} width={3} height={22} />
        <rect x={119} y={1358} width={26} height={3} />
      </g>
      <path d={`M120,1343 L120,${yPrice(12050)} L128,1343 Z`} fill={BLUE} />
      <Squeezed x={147} y={1366} fill={BLUE} length={203}>12,050(2020/12/08)</Squeezed>

      {/* current value tag */}
      <polygon points="2907,1045 2920,1014 3019,1014 3019,1068 2920,1068" fill="#3f74e0" />
      <Squeezed x={2967} y={1037} anchor="middle" fill="#fff" size={24} sx={0.9}>22,550</Squeezed>
      <Squeezed x={2965} y={1062} anchor="middle" fill="#fff" size={24} sx={0.9}>- 0,44%</Squeezed>
    </svg>
  );
}
